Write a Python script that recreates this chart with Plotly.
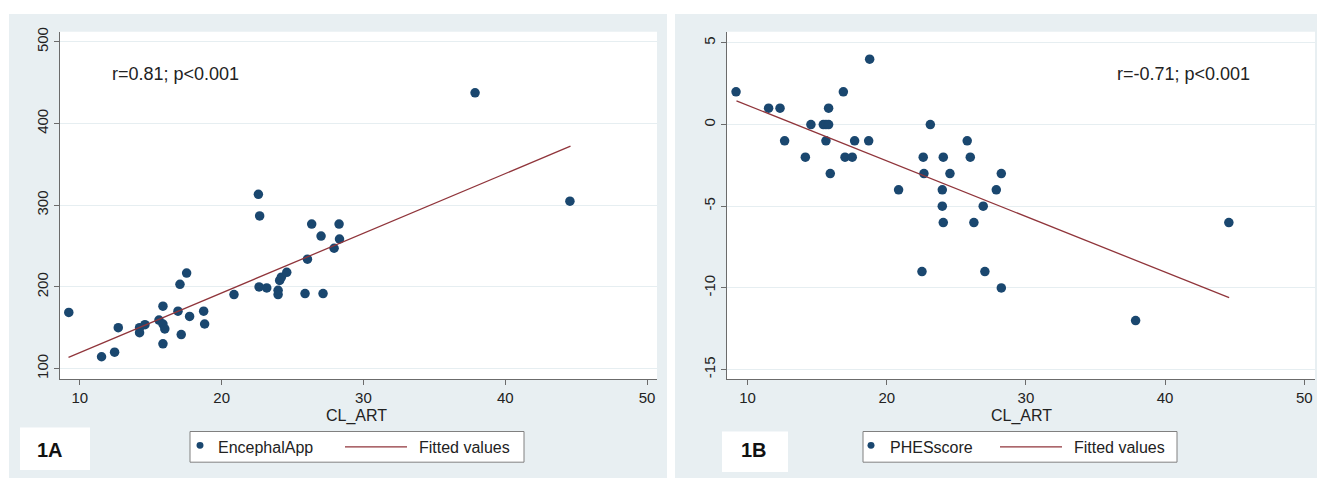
import plotly.graph_objects as go

W, H = 1319, 479

# ---------------- data: panel 1A ----------------
cl_art_a = [9.22, 11.53, 12.45, 12.71, 14.21, 14.21, 14.59, 15.58, 15.86, 15.86,
            15.99, 15.86, 16.92, 17.06, 17.53, 17.15, 17.74, 18.73, 18.80, 20.87,
            22.59, 22.68, 22.64, 23.18, 23.98, 23.98, 24.09, 24.21, 24.59, 25.88,
            26.05, 26.35, 27.01, 27.15, 27.93, 28.28, 28.31, 37.87, 44.56]
encephalapp = [168.8, 114.6, 120.2, 150.2, 150.2, 144.1, 153.8, 159.5, 176.5, 154.7,
               148.6, 130.4, 170.4, 203.2, 217.0, 141.7, 164.0, 170.4, 154.7, 190.7,
               313.4, 287.0, 200.0, 198.8, 190.7, 196.0, 208.0, 212.0, 218.0, 191.9,
               234.0, 277.0, 262.3, 191.9, 247.4, 277.0, 258.7, 437.6, 305.0]
fit_a_x = [9.2, 44.6]
fit_a_y = [113.9, 372.3]

# ---------------- data: panel 1B ----------------
cl_art_b = [9.17, 11.51, 12.33, 12.66, 14.15, 14.55, 15.44, 15.63, 15.82, 15.82,
            15.63, 15.94, 16.88, 17.00, 17.52, 17.69, 18.70, 18.77, 20.85, 22.53,
            22.62, 22.67, 23.13, 23.99, 23.99, 24.06, 24.06, 24.54, 25.78, 26.00,
            26.26, 26.93, 27.05, 27.87, 28.23, 28.23, 37.88, 44.58]
phesscore = [2, 1, 1, -1, -2, 0, 0, 0, 0, 1,
             -1, -3, 2, -2, -2, -1, -1, 4, -4, -9,
             -2, -3, 0, -4, -5, -6, -2, -3, -1, -2,
             -6, -5, -9, -4, -3, -10, -12, -6]
fit_b_x = [9.2, 44.6]
fit_b_y = [1.45, -10.6]

x_ticks = [10, 20, 30, 40, 50]
y_ticks_a = [100, 200, 300, 400, 500]
y_ticks_b = [-15, -10, -5, 0, 5]
y_ticktext_b = ["-15", "-10", "-5", "0", "5"]

NAVY = "#1a476f"
MAROON = "#90353b"
BG = "#e8eff2"
AXC = "#6b6b6b"
FONT = "Liberation Sans"


def px(x):
    return x / W


def py(y):
    return 1 - y / H


fig = go.Figure()
fig.add_trace(go.Scatter(x=cl_art_a, y=encephalapp, mode="markers", name="EncephalApp",
                         marker=dict(color=NAVY, size=9.5, line=dict(width=0)),
                         xaxis="x", yaxis="y", showlegend=False))
fig.add_trace(go.Scatter(x=fit_a_x, y=fit_a_y, mode="lines", name="Fitted values",
                         line=dict(color=MAROON, width=1.3),
                         xaxis="x", yaxis="y", showlegend=False))
fig.add_trace(go.Scatter(x=cl_art_b, y=phesscore, mode="markers", name="PHESscore",
                         marker=dict(color=NAVY, size=9.5, line=dict(width=0)),
                         xaxis="x2", yaxis="y2", showlegend=False))
fig.add_trace(go.Scatter(x=fit_b_x, y=fit_b_y, mode="lines", name="Fitted values",
                         line=dict(color=MAROON, width=1.3),
                         xaxis="x2", yaxis="y2", showlegend=False))

tickfont = dict(family=FONT, size=15, color="#222")
common_x = dict(tickvals=x_ticks, showline=True, linecolor=AXC, linewidth=1,
                ticks="outside", ticklen=5, tickcolor=AXC, showgrid=False,
                zeroline=False, tickfont=tickfont, fixedrange=True)
common_y = dict(showline=True, linecolor=AXC, linewidth=1, ticks="outside",
                ticklen=5, tickcolor=AXC, showgrid=True, gridcolor="#e6eef1",
                gridwidth=1, zeroline=False, tickfont=tickfont, tickangle=-90,
                fixedrange=True)

ydom = [py(378), py(27)]
fig.update_layout(
    width=W, height=H, autosize=False,
    margin=dict(l=0, r=0, t=0, b=0),
    paper_bgcolor="white", plot_bgcolor="white",
    showlegend=False,
    xaxis=dict(domain=[px(60), px(657)], range=[8.6, 50.7], anchor="y", **common_x),
    yaxis=dict(domain=ydom, range=[87.3, 512.4], tickvals=y_ticks_a, anchor="x", **common_y),
    xaxis2=dict(domain=[px(727), px(1315)], range=[8.52, 50.77], anchor="y2", **common_x),
    yaxis2=dict(domain=ydom, range=[-15.58, 5.68], tickvals=y_ticks_b,
                ticktext=y_ticktext_b, anchor="x2", **common_y),
)

shapes = []
# panel backgrounds
for x0, x1 in [(9, 667), (675, 1317)]:
    shapes.append(dict(type="rect", xref="paper", yref="paper", x0=px(x0), x1=px(x1),
                       y0=py(478), y1=py(9), fillcolor=BG, line=dict(width=0), layer="below"))
# white plot regions
for xr, yr in [("x domain", "y domain"), ("x2 domain", "y2 domain")]:
    shapes.append(dict(type="rect", xref=xr, yref=yr, x0=0, x1=1, y0=0, y1=1,
                       fillcolor="white", line=dict(width=0), layer="below"))
# panel label boxes
for x0, x1, y0, y1 in [(20, 90, 427, 470), (722, 788, 431, 472)]:
    shapes.append(dict(type="rect", xref="paper", yref="paper", x0=px(x0), x1=px(x1),
                       y0=py(y1), y1=py(y0), fillcolor="white", line=dict(width=0), layer="below"))
# legend boxes
for x0, x1 in [(190, 524), (863, 1177)]:
    shapes.append(dict(type="rect", xref="paper", yref="paper", x0=px(x0), x1=px(x1),
                       y0=py(462), y1=py(431), fillcolor="white",
                       line=dict(color="#808080", width=1), layer="below"))
# legend symbols
for cx in [200, 871]:
    shapes.append(dict(type="circle", xref="paper", yref="paper",
                       x0=px(cx - 3.5), x1=px(cx + 3.5), y0=py(445 + 3.5), y1=py(445 - 3.5),
                       fillcolor=NAVY, line=dict(width=0)))
for lx0, lx1 in [(345, 407), (1000, 1062)]:
    shapes.append(dict(type="line", xref="paper", yref="paper",
                       x0=px(lx0), x1=px(lx1), y0=py(446.5), y1=py(446.5),
                       line=dict(color=MAROON, width=1.3)))
fig.update_layout(shapes=shapes)

ann = []
lf = dict(family=FONT, size=16, color="#222")
ann.append(dict(text="r=0.81; p<0.001", xref="x", yref="y", x=12.16, y=460.6,
                xanchor="left", yanchor="middle", showarrow=False,
                font=dict(family=FONT, size=18, color="#222")))
ann.append(dict(text="r=-0.71; p<0.001", xref="x2", yref="y2", x=36.4, y=3.07,
                xanchor="left", yanchor="middle", showarrow=False,
                font=dict(family=FONT, size=18, color="#222")))
for cx in [356, 1021]:
    ann.append(dict(text="CL_ART", xref="paper", yref="paper", x=px(cx), y=py(415),
                    xanchor="center", yanchor="middle", showarrow=False, font=lf))
ann.append(dict(text="<b>1A</b>", xref="paper", yref="paper", x=px(50), y=py(450),
                xanchor="center", yanchor="middle", showarrow=False,
                font=dict(family=FONT, size=20, color="#111")))
ann.append(dict(text="<b>1B</b>", xref="paper", yref="paper", x=px(754), y=py(450),
                xanchor="center", yanchor="middle", showarrow=False,
                font=dict(family=FONT, size=20, color="#111")))
for tx, t in [(216, "EncephalApp"), (417, "Fitted values"), (888, "PHESscore"), (1072, "Fitted values")]:
    ann.append(dict(text=t, xref="paper", yref="paper", x=px(tx), y=py(447),
                    xanchor="left", yanchor="middle", showarrow=False, font=lf))
fig.update_layout(annotations=ann)

fig.write_html(
    "out.html",
    config={"displayModeBar": False, "staticPlot": True},
    post_script="document.body.style.margin='0';document.body.style.padding='0';"
                "document.body.style.overflow='hidden';",
)
